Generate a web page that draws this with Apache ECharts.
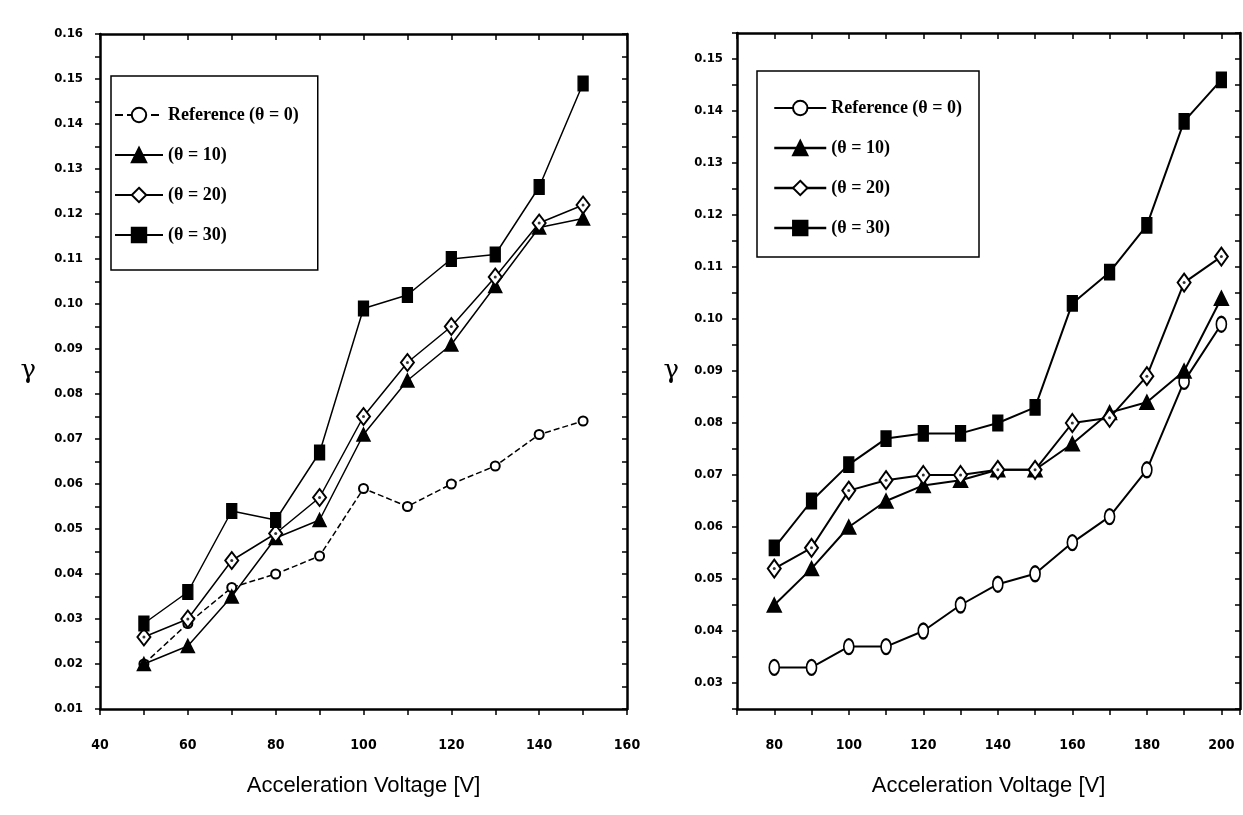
<!DOCTYPE html>
<html>
<head>
<meta charset="utf-8">
<script src="https://cdn.jsdelivr.net/npm/echarts@6/dist/echarts.min.js"></script>
<style>html,body{margin:0;padding:0;background:#fff}#c{width:1243px;height:815px}</style>
</head>
<body>
<div id="c"></div>
<script>
// ---- data ----
const seriesNames = ['Reference (θ = 0)', '(θ = 10)', '(θ = 20)', '(θ = 30)'];

// left panel
const leftVoltage = [50, 60, 70, 80, 90, 100, 110, 120, 130, 140, 150];
const leftRef   = [0.020, 0.029, 0.037, 0.040, 0.044, 0.059, 0.055, 0.060, 0.064, 0.071, 0.074];
const leftT10   = [0.020, 0.024, 0.035, 0.048, 0.052, 0.071, 0.083, 0.091, 0.104, 0.117, 0.119];
const leftT20   = [0.026, 0.030, 0.043, 0.049, 0.057, 0.075, 0.087, 0.095, 0.106, 0.118, 0.122];
const leftT30   = [0.029, 0.036, 0.054, 0.052, 0.067, 0.099, 0.102, 0.110, 0.111, 0.126, 0.149];

// right panel
const rightVoltage = [80, 90, 100, 110, 120, 130, 140, 150, 160, 170, 180, 190, 200];
const rightRef  = [0.033, 0.033, 0.037, 0.037, 0.040, 0.045, 0.049, 0.051, 0.057, 0.062, 0.071, 0.088, 0.099];
const rightT10  = [0.045, 0.052, 0.060, 0.065, 0.068, 0.069, 0.071, 0.071, 0.076, 0.082, 0.084, 0.090, 0.104];
const rightT20  = [0.052, 0.056, 0.067, 0.069, 0.070, 0.070, 0.071, 0.071, 0.080, 0.081, 0.089, 0.107, 0.112];
const rightT30  = [0.056, 0.065, 0.072, 0.077, 0.078, 0.078, 0.080, 0.083, 0.103, 0.109, 0.118, 0.138, 0.146];

const xTitle = 'Acceleration Voltage [V]';
const yTitle = 'γ';

// ---- chart ----
const tickFont = "'Liberation Sans Narrow', 'DejaVu Sans Condensed', sans-serif";
const pair = (xs, ys) => xs.map((x, i) => [x, ys[i]]);

function xAxesFor(grid, min, max) {
  const base = {
    type: 'value', gridIndex: grid, min: min, max: max, interval: 10,
    splitLine: { show: false },
    axisLine: { onZero: false, lineStyle: { color: '#000', width: 2.5 } }
  };
  return [
    Object.assign({}, base, {
      position: 'bottom',
      axisTick: { inside: false, length: 6, lineStyle: { color: '#000', width: 1.5 } },
      axisLabel: {
        formatter: v => (Math.round(v) % 20 === 0 ? String(Math.round(v)) : ''),
        margin: 29, fontSize: 14, fontWeight: 'bold', color: '#000', fontFamily: tickFont
      },
      name: xTitle, nameLocation: 'middle', nameGap: 66,
      nameTextStyle: { fontFamily: "'Liberation Sans', Arial, sans-serif", fontSize: 22, color: '#000' }
    }),
    Object.assign({}, base, {
      position: 'top',
      axisTick: { inside: true, length: 6, lineStyle: { color: '#000', width: 1.5 } },
      axisLabel: { show: false }
    })
  ];
}

function yAxesFor(grid, min, max, nameGap, labelMargin) {
  const base = {
    type: 'value', gridIndex: grid, min: min, max: max, interval: 0.005,
    splitLine: { show: false },
    axisLine: { onZero: false, lineStyle: { color: '#000', width: 2.5 } }
  };
  return [
    Object.assign({}, base, {
      position: 'left',
      axisTick: { inside: false, length: 5, lineStyle: { color: '#000', width: 1.5 } },
      axisLabel: {
        formatter: v => (Math.round(v * 1000) % 10 === 0 ? v.toFixed(2) : ''),
        margin: labelMargin, fontSize: 13, fontWeight: 'bold', color: '#000', fontFamily: tickFont
      },
      name: yTitle, nameLocation: 'middle', nameGap: nameGap, nameRotate: 0,
      nameTextStyle: { fontFamily: "'DejaVu Serif', serif", fontSize: 26, color: '#000' }
    }),
    Object.assign({}, base, {
      position: 'right',
      axisTick: { inside: true, length: 5, lineStyle: { color: '#000', width: 1.5 } },
      axisLabel: { show: false }
    })
  ];
}

function seriesFor(grid, xs, sets, lw, refDashed, sizes) {
  const xi = grid * 2, yi = grid * 2;
  const specs = [
    { symbol: 'emptyCircle', size: sizes.circle, type: refDashed ? 'dashed' : 'solid' },
    { symbol: 'triangle', size: sizes.tri, type: 'solid' },
    { symbol: 'emptyDiamond', size: sizes.dia, type: 'solid' },
    { symbol: 'rect', size: sizes.rect, type: 'solid' }
  ];
  const lines = sets.map((ys, k) => ({
    type: 'line', name: seriesNames[k], xAxisIndex: xi, yAxisIndex: yi,
    data: pair(xs, ys), symbol: specs[k].symbol, symbolSize: specs[k].size,
    showAllSymbol: true, z: 2 + k,
    lineStyle: { color: '#000', width: lw, type: specs[k].type },
    itemStyle: { color: '#000', borderColor: '#000', borderWidth: 1.5 },
    emphasis: { disabled: true }, animation: false
  }));
  // small centre dot inside the open diamonds
  lines.push({
    type: 'scatter', xAxisIndex: xi, yAxisIndex: yi, data: pair(xs, sets[2]),
    symbol: 'circle', symbolSize: 3, z: 10, silent: true,
    itemStyle: { color: '#000' }
  });
  return lines;
}

const chart = echarts.init(document.getElementById('c'), null, { renderer: 'canvas' });

const legendText = { fontFamily: "'Liberation Serif', 'DejaVu Serif', serif", fontWeight: 'bold', fontSize: 18, color: '#000' };

chart.setOption({
  backgroundColor: '#fff',
  animation: false,
  grid: [
    { left: 100, top: 34, width: 527, height: 675 },
    { left: 737, top: 33, width: 503, height: 676 }
  ],
  xAxis: [].concat(xAxesFor(0, 40, 160), xAxesFor(1, 70, 205)),
  yAxis: [].concat(yAxesFor(0, 0.01, 0.16, 64, 17), yAxesFor(1, 0.025, 0.155, 58, 14)),
  legend: [
    {
      left: 111, top: 76, orient: 'vertical', selectedMode: false,
      itemWidth: 48, itemHeight: 18, itemGap: 22,
      padding: [30, 19, 26, 3], borderColor: '#000', borderWidth: 1.5,
      textStyle: legendText, data: seriesNames
    },
    {
      left: 757, top: 71, orient: 'vertical', selectedMode: false,
      itemWidth: 52, itemHeight: 18, itemGap: 22,
      padding: [28, 17, 20, 16], borderColor: '#000', borderWidth: 1.5,
      textStyle: legendText,
      data: seriesNames.map((n, i) => i === 0 ? { name: n, lineStyle: { type: 'solid', width: 2 } } : { name: n, lineStyle: { width: 2.5 } })
    }
  ],
  series: [].concat(
    seriesFor(0, leftVoltage, [leftRef, leftT10, leftT20, leftT30], 1.5, true,
      { circle: 9, tri: 13, dia: [13, 17], rect: [10, 14] }),
    seriesFor(1, rightVoltage, [rightRef, rightT10, rightT20, rightT30], 2, false,
      { circle: [10, 15], tri: 14, dia: [13, 18], rect: [10, 15] })
  )
});
</script>
</body>
</html>
